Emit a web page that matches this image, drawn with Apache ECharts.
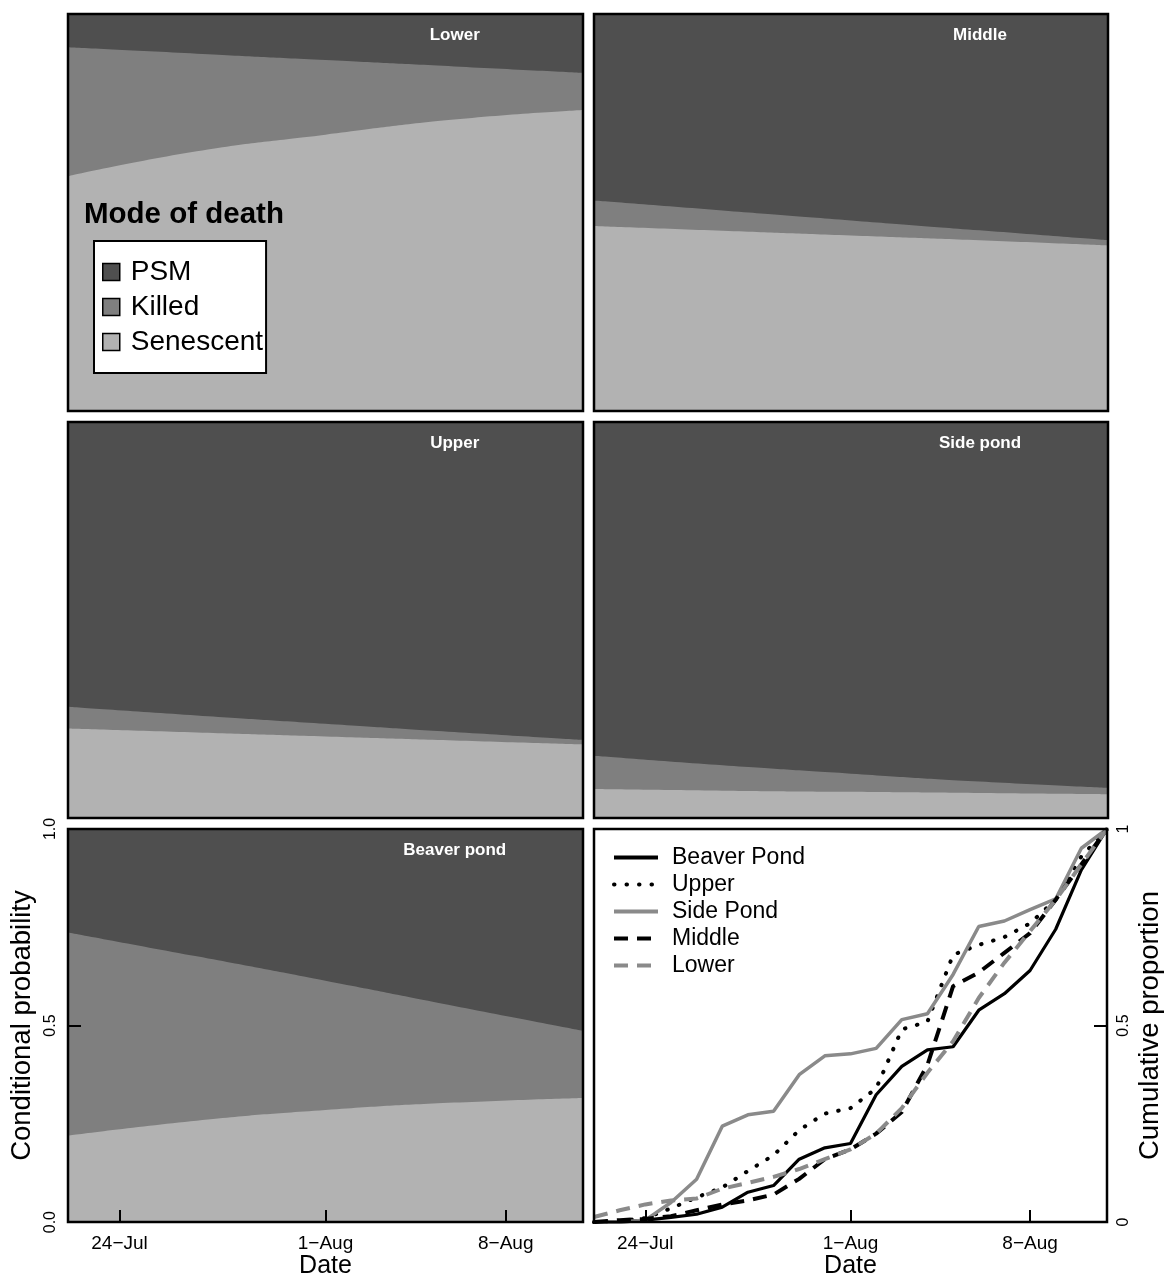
<!DOCTYPE html>
<html>
<head>
<meta charset="utf-8">
<script src="https://cdn.jsdelivr.net/npm/echarts@6/dist/echarts.min.js"></script>
<style>
  html, body { margin: 0; padding: 0; background: #fff; }
  #chart { width: 1165px; height: 1280px; }
</style>
</head>
<body>
<div id="chart"></div>
<script>
// x is days since 22-Jul (0 = 22-Jul, 20 = 11-Aug)
const tickDays = [2, 10, 17];
const tickLabels = ["24−Jul", "1−Aug", "8−Aug"];

// fitted curves (conditional probability), read at these days
const curveDays = [0, 5, 10, 15, 20];
// upper edge of Senescent band, upper edge of Killed band (PSM fills the rest)
const lowerSenescent = [0.591, 0.654, 0.696, 0.734, 0.758];
const lowerKilledTop = [0.916, 0.900, 0.884, 0.868, 0.852];
const middleSenescent = [0.466, 0.454, 0.442, 0.430, 0.417];
const middleKilledTop = [0.530, 0.505, 0.480, 0.455, 0.430];
const upperSenescent = [0.226, 0.216, 0.206, 0.196, 0.186];
const upperKilledTop = [0.281, 0.259, 0.238, 0.217, 0.197];
const sideSenescent = [0.073, 0.069, 0.066, 0.063, 0.060];
const sideKilledTop = [0.157, 0.133, 0.112, 0.092, 0.076];
const beaverSenescent = [0.220, 0.258, 0.285, 0.304, 0.316];
const beaverKilledTop = [0.737, 0.676, 0.614, 0.550, 0.487];
const psmTop = [1, 1, 1, 1, 1];

const panelNames = ["Lower", "Middle", "Upper", "Side pond", "Beaver pond"];
const modeNames = ["PSM", "Killed", "Senescent"];

// cumulative proportion of deaths, one value per day
const days = [0, 1, 2, 3, 4, 5, 6, 7, 8, 9, 10, 11, 12, 13, 14, 15, 16, 17, 18, 19, 20];
const beaverPond = [0, 0, 0.005, 0.012, 0.02, 0.038, 0.076, 0.093, 0.16, 0.189, 0.2, 0.324, 0.396, 0.438, 0.446, 0.539, 0.581, 0.64, 0.745, 0.896, 1.0];
const upper = [0, 0.003, 0.01, 0.035, 0.063, 0.088, 0.13, 0.17, 0.234, 0.276, 0.29, 0.34, 0.49, 0.51, 0.68, 0.705, 0.725, 0.76, 0.82, 0.93, 1.0];
const sidePond = [0, 0, 0.005, 0.05, 0.109, 0.244, 0.273, 0.282, 0.375, 0.423, 0.428, 0.442, 0.515, 0.53, 0.63, 0.752, 0.766, 0.795, 0.822, 0.951, 1.0];
const middle = [0, 0.005, 0.008, 0.015, 0.03, 0.045, 0.055, 0.07, 0.11, 0.16, 0.185, 0.225, 0.28, 0.40, 0.60, 0.635, 0.685, 0.735, 0.82, 0.91, 1.0];
const lower = [0.013, 0.03, 0.045, 0.055, 0.06, 0.085, 0.1, 0.115, 0.135, 0.16, 0.185, 0.225, 0.29, 0.38, 0.46, 0.57, 0.66, 0.74, 0.82, 0.91, 1.0];

const lineNames = ["Beaver Pond", "Upper", "Side Pond", "Middle", "Lower"];

const FONT = '"Liberation Sans", Arial, Helvetica, sans-serif';
const PSM_COLOR = "#4f4f4f";
const KILLED_COLOR = "#7f7f7f";
const SEN_COLOR = "#b2b2b2";
const LINE_GRAY = "#8a8a8a";

const panelBands = [
  [psmTop, lowerKilledTop, lowerSenescent],
  [psmTop, middleKilledTop, middleSenescent],
  [psmTop, upperKilledTop, upperSenescent],
  [psmTop, sideKilledTop, sideSenescent],
  [psmTop, beaverKilledTop, beaverSenescent],
];
const bandColors = [PSM_COLOR, KILLED_COLOR, SEN_COLOR];

const gridBoxes = [
  { left: 68, top: 14, width: 515, height: 397 },
  { left: 594, top: 14, width: 514, height: 397 },
  { left: 68, top: 422, width: 515, height: 396 },
  { left: 594, top: 422, width: 514, height: 396 },
  { left: 68, top: 829, width: 515, height: 396 },
  { left: 594, top: 829, width: 514, height: 396 },
];

const zip = (xs, ys) => xs.map((x, i) => [x, ys[i]]);

const grid = gridBoxes.map((b) => ({
  ...b,
  show: true,
  z: 10,
  backgroundColor: "transparent",
  borderColor: "#000",
  borderWidth: 2.5,
}));

const xAxis = gridBoxes.map((b, i) => ({
  type: "value",
  gridIndex: i,
  min: 0,
  max: 20,
  z: 10,
  axisLine: { show: false, onZero: false },
  splitLine: { show: false },
  axisTick: {
    show: i >= 4,
    inside: true,
    length: 12,
    customValues: tickDays,
    lineStyle: { color: "#000", width: 2 },
  },
  axisLabel: {
    show: i >= 4,
    customValues: tickDays,
    formatter: (v) => tickLabels[tickDays.indexOf(v)] ?? "",
    fontSize: 19,
    color: "#000",
    margin: 12,
  },
  name: i >= 4 ? "Date" : "",
  nameLocation: "middle",
  nameGap: 31,
  nameTextStyle: { fontSize: 25, color: "#000" },
}));

const yAxis = gridBoxes.map((b, i) => ({
  type: "value",
  gridIndex: i,
  min: 0,
  max: 1,
  interval: 0.5,
  position: i === 5 ? "right" : "left",
  z: 10,
  axisLine: { show: false, onZero: false },
  splitLine: { show: false },
  axisTick: {
    show: i >= 4,
    inside: true,
    length: 13,
    lineStyle: { color: "#000", width: 2 },
  },
  axisLabel: {
    show: i >= 4,
    rotate: 90,
    fontSize: 16,
    color: "#000",
    margin: 9,
    formatter: i === 4 ? (v) => v.toFixed(1) : (v) => String(v),
  },
  name: i === 4 ? "Conditional probability" : i === 5 ? "Cumulative proportion" : "",
  nameLocation: "middle",
  nameGap: i === 5 ? 29 : 32,
  nameTextStyle: { fontSize: 27.5, color: "#000" },
}));

const series = [];
panelBands.forEach((bands, p) => {
  bands.forEach((vals, k) => {
    series.push({
      type: "line",
      name: modeNames[k],
      xAxisIndex: p,
      yAxisIndex: p,
      data: zip(curveDays, vals),
      smooth: 0.5,
      symbol: "none",
      silent: true,
      color: bandColors[k],
      lineStyle: { width: 0 },
      areaStyle: { color: bandColors[k], opacity: 1 },
    });
  });
});

const lineData = [beaverPond, upper, sidePond, middle, lower];
const lineStyles = [
  { color: "#000", width: 3.2 },
  { color: "#000", width: 4, type: [0.5, 12], cap: "round" },
  { color: LINE_GRAY, width: 3.5 },
  { color: "#000", width: 4, type: [14, 9] },
  { color: LINE_GRAY, width: 4, type: [14, 9] },
];
lineData.forEach((vals, k) => {
  series.push({
    type: "line",
    name: lineNames[k],
    xAxisIndex: 5,
    yAxisIndex: 5,
    data: zip(days, vals),
    symbol: "none",
    silent: true,
    color: lineStyles[k].color,
    lineStyle: lineStyles[k],
  });
});

const panelTitles = panelNames.map((name, p) => ({
  text: name,
  left: gridBoxes[p].left + gridBoxes[p].width * 0.751,
  top: gridBoxes[p].top + 13,
  textAlign: "center",
  padding: 0,
  textStyle: { color: "#fff", fontSize: 17, fontWeight: "bold", fontFamily: FONT },
}));

const option = {
  animation: false,
  backgroundColor: "#fff",
  textStyle: { fontFamily: FONT },
  title: [
    ...panelTitles,
    {
      text: "Mode of death",
      left: 84,
      top: 200,
      padding: 0,
      textStyle: { color: "#000", fontSize: 29.5, fontWeight: "bold", fontFamily: FONT },
    },
  ],
  legend: [
    {
      data: modeNames.map((n) => ({ name: n, icon: "rect" })),
      orient: "vertical",
      left: 94,
      top: 241,
      padding: [17, 3, 17, 8],
      itemGap: 7,
      itemWidth: 17,
      itemHeight: 17,
      selectedMode: false,
      backgroundColor: "#fff",
      borderColor: "#000",
      borderWidth: 2,
      borderRadius: 0,
      itemStyle: { borderColor: "#000", borderWidth: 1.5 },
      textStyle: { fontSize: 28, color: "#000", padding: [0, 0, 0, 6] },
    },
    {
      data: lineNames,
      orient: "vertical",
      left: 607,
      top: 841,
      padding: 5,
      itemGap: 4,
      itemWidth: 44,
      itemHeight: 14,
      selectedMode: false,
      lineStyle: { width: 4 },
      itemStyle: { color: "rgba(0,0,0,0)", borderColor: "rgba(0,0,0,0)", borderWidth: 0, opacity: 0 },
      textStyle: { fontSize: 23, color: "#000", padding: [0, 0, 0, 9] },
    },
  ],
  grid,
  xAxis,
  yAxis,
  series,
};

const chart = echarts.init(document.getElementById("chart"));
chart.setOption(option);
window.addEventListener("resize", () => chart.resize());
</script>
</body>
</html>
